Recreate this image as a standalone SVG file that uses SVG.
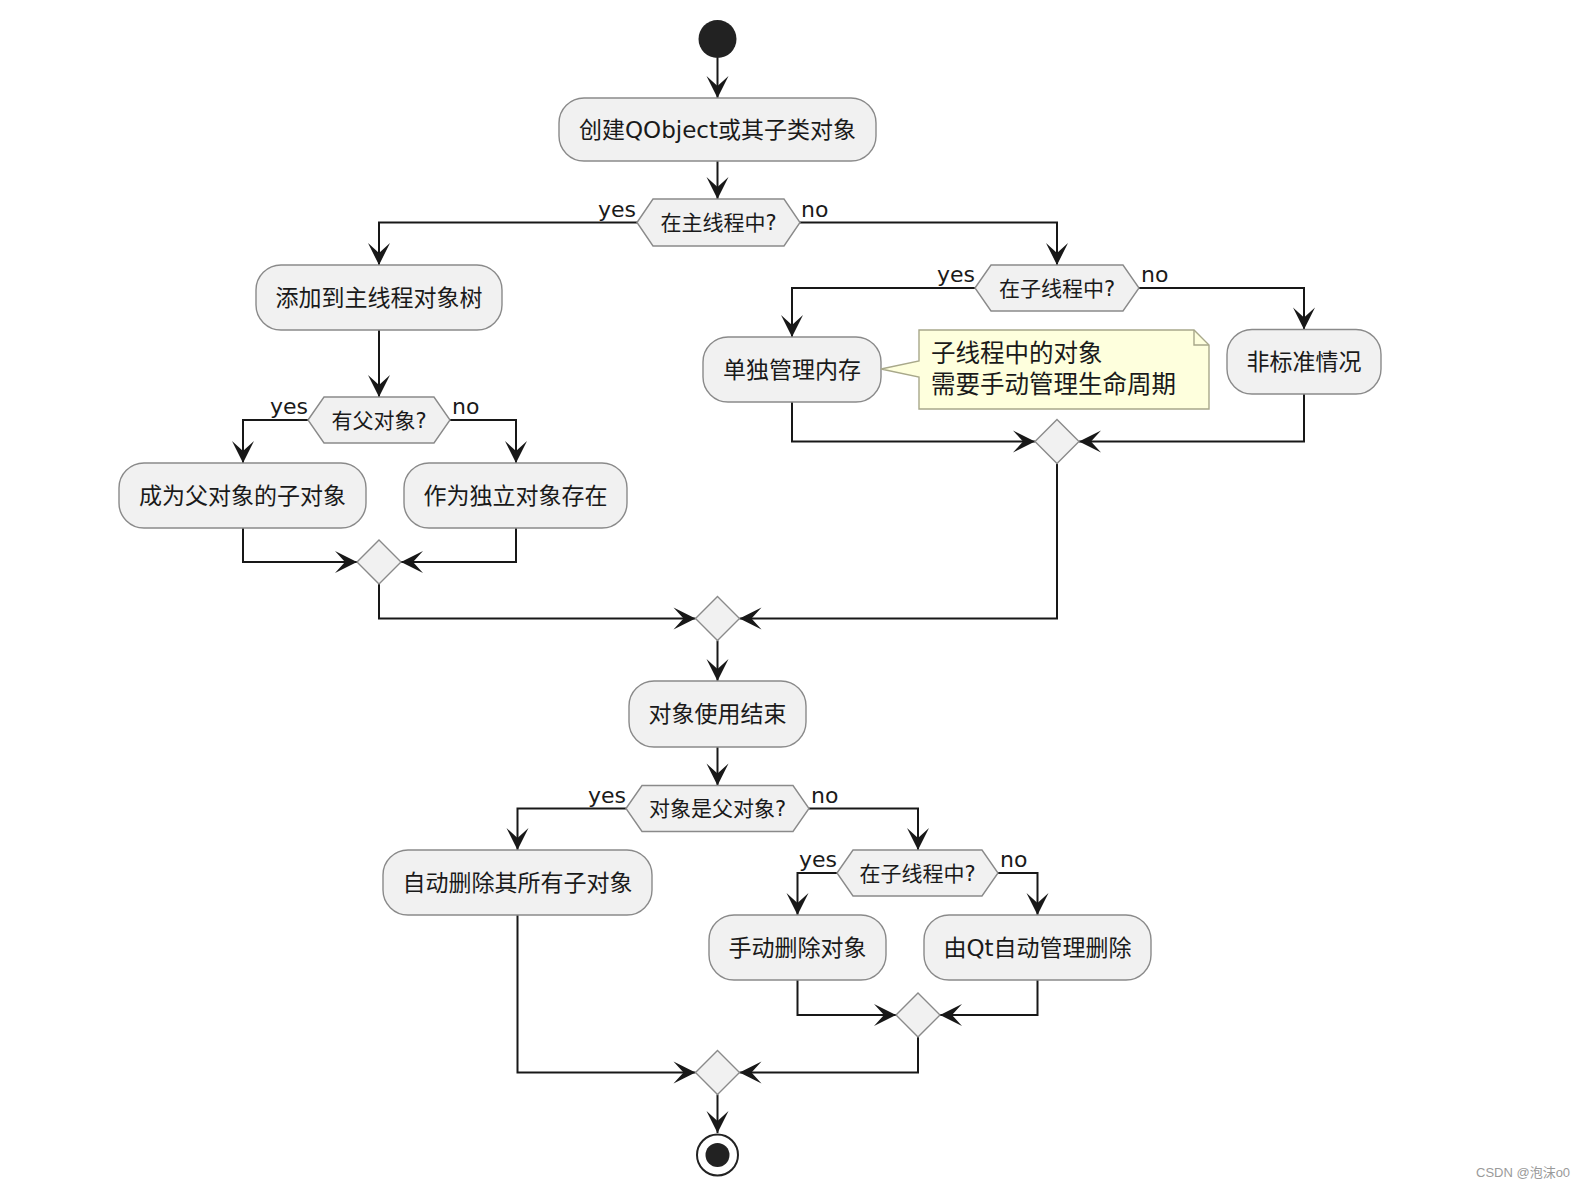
<svg xmlns="http://www.w3.org/2000/svg" width="1585" height="1188" viewBox="0 0 1585 1188">
<style>
  .act{fill:#F1F1F1;stroke:#8a8a8a;stroke-width:1.4}
  .dec{fill:#F1F1F1;stroke:#8a8a8a;stroke-width:1.4}
  .t{font-family:"DejaVu Sans","Noto Sans CJK SC",sans-serif;fill:#1a1a1a}
  .bt{font-size:23px;text-anchor:middle}
  .ht{font-size:21px;text-anchor:middle}
  .lb{font-size:22px}
  .ln{fill:none;stroke:#181818;stroke-width:2;marker-end:url(#ah)}
  .note{fill:#FEFFDD;stroke:#A8A88A;stroke-width:1.4}
</style>
<defs>
  <marker id="ah" markerUnits="userSpaceOnUse" viewBox="-23 -12 24 24" markerWidth="24" markerHeight="24" refX="0" refY="0" orient="auto">
    <path d="M0,0 L-22,-11 L-12,0 L-22,11 Z" fill="#181818"/>
  </marker>
</defs>
<rect width="1585" height="1188" fill="#ffffff"/>

<g id="connectors">
  <path class="ln" d="M717.5,58 V98"/>
  <path class="ln" d="M717.5,161 V199"/>
  <path class="ln" d="M637,222.5 H379 V265"/>
  <path class="ln" d="M800,222.5 H1057 V265"/>
  <path class="ln" d="M379,330 V397"/>
  <path class="ln" d="M308,420 H243 V463"/>
  <path class="ln" d="M450,420 H516 V463"/>
  <path class="ln" d="M243,528 V562 H357"/>
  <path class="ln" d="M516,528 V562 H401"/>
  <path class="ln" d="M379,584 V618.5 H695.5"/>
  <path class="ln" d="M975,288 H792 V337"/>
  <path class="ln" d="M1139,288 H1304 V329.5"/>
  <path class="ln" d="M792,402 V441.5 H1035"/>
  <path class="ln" d="M1304,394 V441.5 H1079"/>
  <path class="ln" d="M1057,463.5 V618.5 H739.5"/>
  <path class="ln" d="M717.5,640.5 V681"/>
  <path class="ln" d="M717.5,747 V785.5"/>
  <path class="ln" d="M626,808.5 H517.5 V850"/>
  <path class="ln" d="M809,808.5 H918 V850"/>
  <path class="ln" d="M837,873 H797.5 V915"/>
  <path class="ln" d="M998,873 H1037.5 V915"/>
  <path class="ln" d="M797.5,980 V1015 H896"/>
  <path class="ln" d="M1037.5,980 V1015 H940"/>
  <path class="ln" d="M918,1037 V1072.5 H739.5"/>
  <path class="ln" d="M517.5,915 V1072.5 H695.5"/>
  <path class="ln" d="M717.5,1094.5 V1133"/>
  <g class="t lb">
    <text x="636" y="217" text-anchor="end">yes</text>
    <text x="801" y="217">no</text>
    <text x="975" y="282" text-anchor="end">yes</text>
    <text x="1141" y="282">no</text>
    <text x="308" y="414" text-anchor="end">yes</text>
    <text x="452" y="414">no</text>
    <text x="626" y="803" text-anchor="end">yes</text>
    <text x="811" y="803">no</text>
    <text x="837" y="867" text-anchor="end">yes</text>
    <text x="1000" y="867">no</text>
  </g>
</g>

<g id="start"><circle cx="717.5" cy="39" r="19" fill="#222222"/></g>

<g id="create">
  <rect class="act" x="559" y="98" width="317" height="63" rx="25"/>
  <text class="t bt" x="717.5" y="137.5">创建QObject或其子类对象</text>
</g>

<g id="inMainThread">
  <polygon class="dec" points="637,222.5 653,199 784,199 800,222.5 784,246 653,246"/>
  <text class="t ht" x="718.5" y="230">在主线程中?</text>
</g>

<g id="addToTree">
  <rect class="act" x="256" y="265" width="246" height="65" rx="25"/>
  <text class="t bt" x="379" y="305.5">添加到主线程对象树</text>
</g>

<g id="hasParent">
  <polygon class="dec" points="308,420 324,397 434,397 450,420 434,443 324,443"/>
  <text class="t ht" x="379" y="427.5">有父对象?</text>
</g>

<g id="becomeChild">
  <rect class="act" x="119" y="463" width="247" height="65" rx="25"/>
  <text class="t bt" x="242.5" y="503.5">成为父对象的子对象</text>
</g>

<g id="standalone">
  <rect class="act" x="404" y="463" width="223" height="65" rx="25"/>
  <text class="t bt" x="515.5" y="503.5">作为独立对象存在</text>
</g>

<g id="merge1"><polygon class="dec" points="379,540 401,562 379,584 357,562"/></g>

<g id="inSubThread1">
  <polygon class="dec" points="975,288 991,265 1123,265 1139,288 1123,311 991,311"/>
  <text class="t ht" x="1057" y="295.5">在子线程中?</text>
</g>

<g id="manageMem">
  <rect class="act" x="703" y="337" width="178" height="65" rx="25"/>
  <text class="t bt" x="792" y="377.5">单独管理内存</text>
</g>

<g id="note">
  <path class="note" d="M919,330 H1194 L1209,345 V409 H919 V377 L881,369 L919,361 Z"/>
  <path d="M1194,330 V345 H1209" fill="none" stroke="#A8A88A" stroke-width="1.4"/>
  <text class="t" x="931" y="362" font-size="24.5">子线程中的对象</text>
  <text class="t" x="931" y="392.5" font-size="24.5">需要手动管理生命周期</text>
</g>

<g id="nonStandard">
  <rect class="act" x="1227" y="329.5" width="154" height="64.5" rx="25"/>
  <text class="t bt" x="1304" y="370">非标准情况</text>
</g>

<g id="merge2"><polygon class="dec" points="1057,419.5 1079,441.5 1057,463.5 1035,441.5"/></g>

<g id="merge3"><polygon class="dec" points="717.5,596.5 739.5,618.5 717.5,640.5 695.5,618.5"/></g>

<g id="useEnd">
  <rect class="act" x="629" y="681" width="177" height="66" rx="25"/>
  <text class="t bt" x="717.5" y="722">对象使用结束</text>
</g>

<g id="isParent">
  <polygon class="dec" points="626,808.5 642,785.5 793,785.5 809,808.5 793,831.5 642,831.5"/>
  <text class="t ht" x="717.5" y="816">对象是父对象?</text>
</g>

<g id="autoDeleteChildren">
  <rect class="act" x="383" y="850" width="269" height="65" rx="25"/>
  <text class="t bt" x="517.5" y="890.5">自动删除其所有子对象</text>
</g>

<g id="inSubThread2">
  <polygon class="dec" points="837,873 853,850 982,850 998,873 982,896 853,896"/>
  <text class="t ht" x="917.5" y="880.5">在子线程中?</text>
</g>

<g id="manualDelete">
  <rect class="act" x="709" y="915" width="177" height="65" rx="25"/>
  <text class="t bt" x="797.5" y="955.5">手动删除对象</text>
</g>

<g id="qtDelete">
  <rect class="act" x="924" y="915" width="227" height="65" rx="25"/>
  <text class="t bt" x="1037.5" y="955.5">由Qt自动管理删除</text>
</g>

<g id="merge4"><polygon class="dec" points="918,993 940,1015 918,1037 896,1015"/></g>

<g id="merge5"><polygon class="dec" points="717.5,1050.5 739.5,1072.5 717.5,1094.5 695.5,1072.5"/></g>

<g id="end">
  <circle cx="717.5" cy="1155" r="20.5" fill="#ffffff" stroke="#222222" stroke-width="2"/>
  <circle cx="717.5" cy="1155" r="12" fill="#222222"/>
</g>

<text x="1476" y="1177" font-family="Liberation Sans,Noto Sans CJK SC,sans-serif" font-size="13" fill="#9a9a9a">CSDN @泡沫o0</text>
</svg>
